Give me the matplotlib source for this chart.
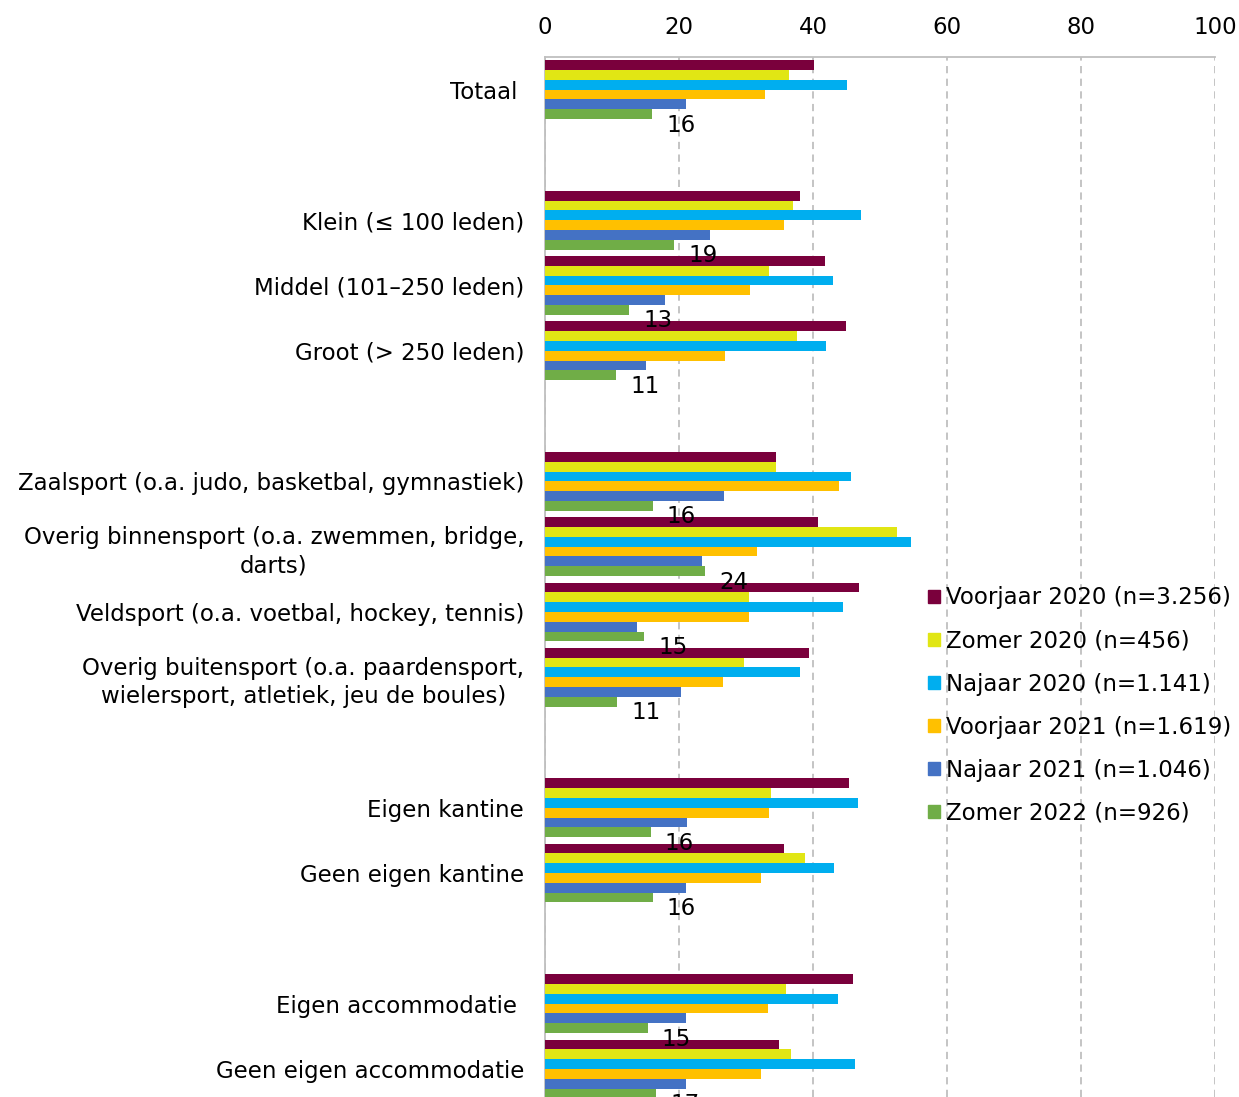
import numpy as np
import matplotlib.pyplot as plt
from matplotlib.patches import Patch

plt.rcParams['font.family'] = ['DejaVu Sans']

# '' = empty slot between groups
categories = ['Totaal ', '',
              'Klein (≤ 100 leden)', 'Middel (101–250 leden)', 'Groot (> 250 leden)', '',
              'Zaalsport (o.a. judo, basketbal, gymnastiek)',
              'Overig binnensport (o.a. zwemmen, bridge,\ndarts)',
              'Veldsport (o.a. voetbal, hockey, tennis)',
              'Overig buitensport (o.a. paardensport,\nwielersport, atletiek, jeu de boules)', '',
              'Eigen kantine', 'Geen eigen kantine', '',
              'Eigen accommodatie ', 'Geen eigen accommodatie']

series = ['Voorjaar 2020 (n=3.256)', 'Zomer 2020 (n=456)', 'Najaar 2020 (n=1.141)',
          'Voorjaar 2021 (n=1.619)', 'Najaar 2021 (n=1.046)', 'Zomer 2022 (n=926)']

# values for the non-empty categories, in order
voorjaar_2020 = [40.2, 38.0, 41.8, 44.9, 34.5, 40.8, 46.9, 39.4, 45.3, 35.7, 46.0, 34.9]
zomer_2020 = [36.4, 37.0, 33.4, 37.6, 34.5, 52.6, 30.5, 29.7, 33.8, 38.8, 35.9, 36.7]
najaar_2020 = [45.0, 47.2, 43.0, 42.0, 45.6, 54.7, 44.5, 38.0, 46.7, 43.1, 43.8, 46.3]
voorjaar_2021 = [32.8, 35.6, 30.6, 26.8, 43.9, 31.7, 30.5, 26.5, 33.4, 32.2, 33.3, 32.3]
najaar_2021 = [21.1, 24.6, 17.9, 15.0, 26.7, 23.4, 13.8, 20.3, 21.2, 21.0, 21.1, 21.0]
zomer_2022 = [16.0, 19.3, 12.6, 10.6, 16.1, 23.9, 14.8, 10.8, 15.8, 16.1, 15.3, 16.6]

data = [voorjaar_2020, zomer_2020, najaar_2020, voorjaar_2021, najaar_2021, zomer_2022]
colors = ['#7A003C', '#E1E614', '#00AEEF', '#FFC000', '#4472C4', '#70AD47']

pos = np.array([i for i, c in enumerate(categories) if c != ''])
fs = 16.5

fig = plt.figure(figsize=(12.39, 10.97), dpi=100)
ax = fig.add_axes([545 / 1239, 0.0, 670 / 1239, 1 - 57 / 1097])

h = 0.15
for k, (vals, col) in enumerate(zip(data, colors)):
    ax.barh(pos + (k - 2.5) * h, vals, height=h, color=col, zorder=3)

for y, v in zip(pos + 2.5 * h, zomer_2022):
    ax.annotate('%d' % round(v), (v, y), xytext=(14, -11), textcoords='offset pixels',
                ha='left', va='center', fontsize=fs)

ax.set_xlim(0, 100)
ax.set_ylim(15.43, -0.5)
ax.set_xticks(range(0, 101, 20))
ax.xaxis.tick_top()
ax.tick_params(axis='x', length=0, labelsize=fs, pad=13)
ax.set_yticks(range(len(categories)))
ax.set_yticklabels(categories, fontsize=fs, multialignment='center', linespacing=1.3)
ax.tick_params(axis='y', length=0, pad=15)
ax.grid(axis='x', color='#BFBFBF', linestyle=(0, (4, 3)), linewidth=1.3, zorder=0)
for s in ['right', 'bottom']:
    ax.spines[s].set_visible(False)
for s in ['left', 'top']:
    ax.spines[s].set_color('#BFBFBF')
    ax.spines[s].set_linewidth(1.3)

handles = [Patch(color=c) for c in colors]
fig.legend(handles, series, loc='upper left', bbox_to_anchor=(919 / 1239, 1 - 577 / 1097),
           frameon=False, fontsize=fs, handlelength=0.5, handleheight=0.5,
           handletextpad=0.3, labelspacing=0.88, borderaxespad=0)

fig.savefig('out.png', dpi=100)
